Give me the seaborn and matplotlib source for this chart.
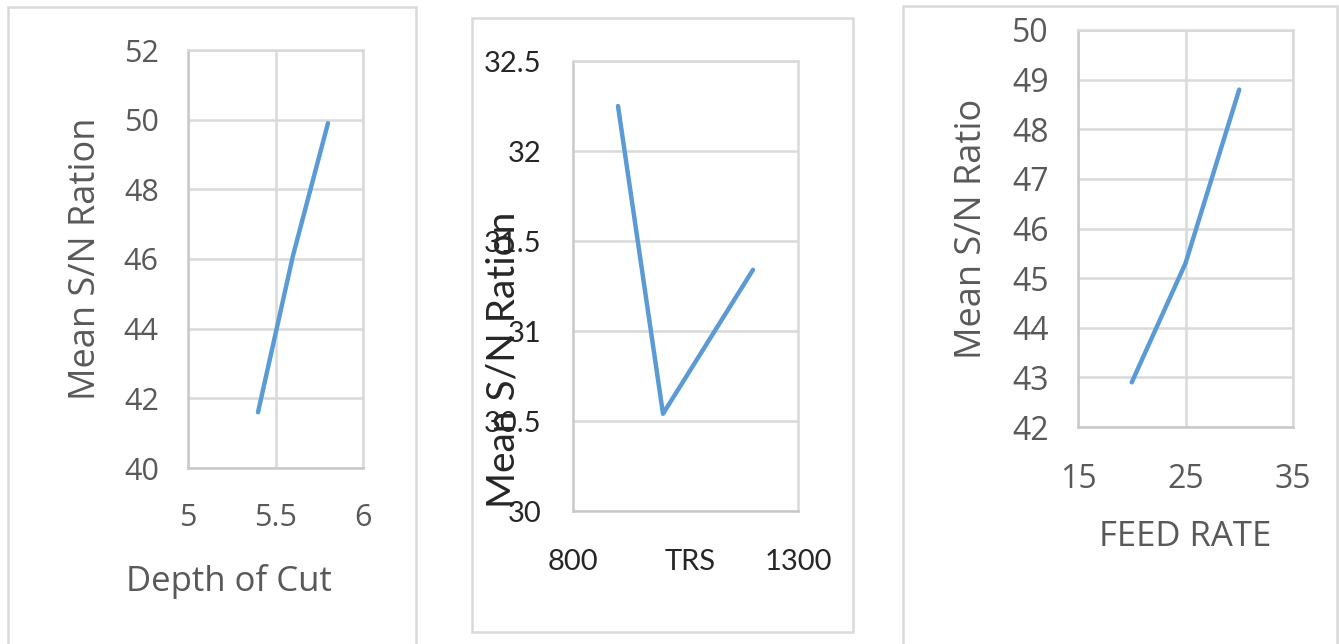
import matplotlib
matplotlib.use("Agg")
import matplotlib.pyplot as plt
import seaborn as sns
from matplotlib.patches import Rectangle

# ---- data ----
depth_of_cut = [5.4, 5.6, 5.8]
depth_sn = [41.6, 46.1, 49.9]

trs = [900, 1000, 1200]
trs_sn = [32.25, 30.54, 31.34]

feed_rate = [20, 25, 30]
feed_sn = [42.9, 45.3, 48.8]

p1_xticks = [5, 5.5, 6]
p1_yticks = [40, 42, 44, 46, 48, 50, 52]
p2_xticks = [800, 1300]
p2_yticks = [30, 30.5, 31, 31.5, 32, 32.5]
p3_xticks = [15, 25, 35]
p3_yticks = [42, 43, 44, 45, 46, 47, 48, 49, 50]

sns.set_theme(style="white")
W, H = 1339, 644
fig = plt.figure(figsize=(W / 100, H / 100), dpi=100)
fig.patch.set_facecolor("white")

LINE = "#5B9BD5"
GRID = "#D9D9D9"
SPINE = "#C9C9C9"


def px_axes(l, r, t, b):
    return fig.add_axes([l / W, (H - b) / H, (r - l) / W, (b - t) / H])


def frame(l, r, t, b):
    fig.patches.append(Rectangle((l / W, (H - b) / H), (r - l) / W, (b - t) / H,
                                 transform=fig.transFigure, fill=False,
                                 edgecolor=GRID, linewidth=1.8, zorder=0))


frame(8, 416, 7, 660)
frame(472, 853, 18, 632)
frame(903, 1337, 6, 660)


def style(ax, color, family, fs, xpad, ypad, vgrid):
    ax.set_facecolor("white")
    for s in ax.spines.values():
        s.set_visible(True)
        s.set_color(GRID)
        s.set_linewidth(1.8)
    ax.spines["left"].set_color(SPINE)
    ax.spines["bottom"].set_color(SPINE)
    ax.grid(axis="y", color=GRID, linewidth=1.8)
    if vgrid:
        ax.grid(axis="x", color=GRID, linewidth=1.8)
    ax.set_axisbelow(True)
    ax.tick_params(length=0, labelsize=fs, labelcolor=color)
    ax.tick_params(axis="x", pad=xpad)
    ax.tick_params(axis="y", pad=ypad)
    for lab in ax.get_xticklabels() + ax.get_yticklabels():
        lab.set_fontfamily(family)


# ---- panel 1 ----
ax1 = px_axes(188, 363, 50, 468)
sns.lineplot(x=depth_of_cut, y=depth_sn, ax=ax1, color=LINE, linewidth=3.2)
ax1.set_xlim(5, 6)
ax1.set_ylim(40, 52)
ax1.set_xticks(p1_xticks)
ax1.set_xticklabels(["5", "5.5", "6"])
ax1.set_yticks(p1_yticks)
style(ax1, "#595959", "Open Sans", 22, 25, 21, True)
ax1.set_xlabel("Depth of Cut", fontsize=25, color="#595959", family="Open Sans")
ax1.set_ylabel("Mean S/N Ration", fontsize=26, color="#595959", family="Open Sans")
ax1.xaxis.set_label_coords(0.234, -0.271)
ax1.yaxis.set_label_coords(-0.583, 0.5)
ax1.xaxis.label.set_va("center")
ax1.yaxis.label.set_va("center")

# ---- panel 2 ----
ax2 = px_axes(573, 798, 61, 511)
sns.lineplot(x=trs, y=trs_sn, ax=ax2, color=LINE, linewidth=3.2)
ax2.set_xlim(800, 1300)
ax2.set_ylim(30, 32.5)
ax2.set_xticks(p2_xticks)
ax2.set_xticklabels(["800", "1300"])
ax2.set_yticks(p2_yticks)
ax2.set_yticklabels(["30", "30.5", "31", "31.5", "32", "32.5"])
style(ax2, "#262626", "Lato", 21, 27, 23, False)
ax2.set_xlabel("TRS", fontsize=21, color="#262626", family="Lato")
ax2.set_ylabel("Mean S/N Ration", fontsize=28, color="#262626", family="Lato")
ax2.xaxis.set_label_coords(0.52, -0.113)
ax2.xaxis.label.set_va("center")
ax2.yaxis.set_label_coords(-0.311, 0.336)
ax2.yaxis.label.set_va("center")

# ---- panel 3 ----
ax3 = px_axes(1078, 1293, 30, 427)
sns.lineplot(x=feed_rate, y=feed_sn, ax=ax3, color=LINE, linewidth=3.2)
ax3.set_xlim(15, 35)
ax3.set_ylim(42, 50)
ax3.set_xticks(p3_xticks)
ax3.set_yticks(p3_yticks)
style(ax3, "#595959", "Open Sans", 23, 26, 21, True)
ax3.set_xlabel("FEED RATE", fontsize=25, color="#595959", family="Open Sans")
ax3.set_ylabel("Mean S/N Ratio", fontsize=26, color="#595959", family="Open Sans")
ax3.xaxis.set_label_coords(0.498, -0.277)
ax3.xaxis.label.set_va("center")
ax3.yaxis.set_label_coords(-0.493, 0.498)
ax3.yaxis.label.set_va("center")

fig.savefig("out.png", dpi=100, facecolor="white")
